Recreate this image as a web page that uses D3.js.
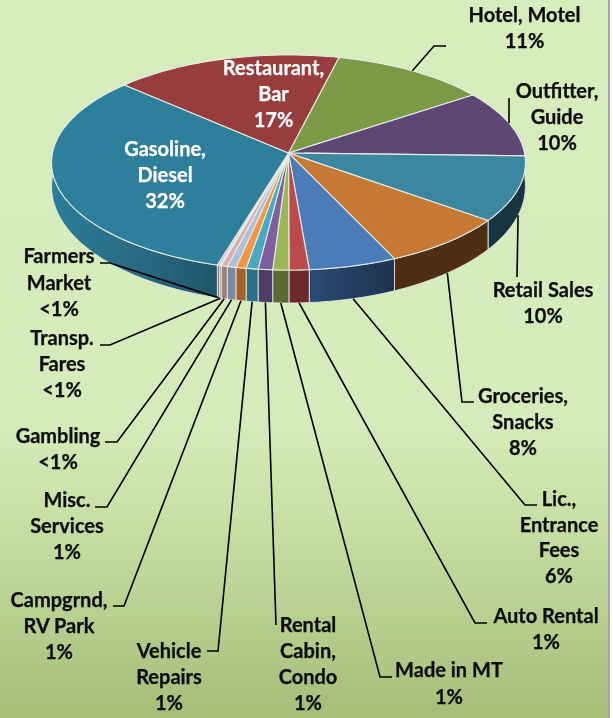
<!DOCTYPE html>
<html><head><meta charset="utf-8">
<script src="https://cdn.jsdelivr.net/npm/d3@7/dist/d3.min.js"></script>
<style>html,body{margin:0;padding:0;background:#fff}svg{display:block}
text{font-family:Lato,"Open Sans",sans-serif;font-weight:700;font-size:20px;text-anchor:middle;stroke-width:.25px}</style>
</head><body><div id="chart"></div>
<script>
// ---- data ----
const categories = [
  "Hotel, Motel","Outfitter, Guide","Retail Sales","Groceries, Snacks","Lic., Entrance Fees",
  "Auto Rental","Made in MT","Rental Cabin, Condo","Vehicle Repairs","Campgrnd, RV Park",
  "Misc. Services","Gambling","Transp. Fares","Farmers Market","Gasoline, Diesel","Restaurant, Bar"];
const values = [11.6,10.1,9.8,8,5.5,1.25,1,0.9,0.75,0.64,0.55,0.39,0.1,0.15,32.37,16.9];
const percentLabels = ["11%","10%","10%","8%","6%","1%","1%","1%","1%","1%","1%","<1%","<1%","<1%","32%","17%"];
const nameLines = [
  ["Hotel, Motel"],["Outfitter,","Guide"],["Retail Sales"],["Groceries,","Snacks"],["Lic.,","Entrance","Fees"],
  ["Auto Rental"],["Made in MT"],["Rental","Cabin,","Condo"],["Vehicle","Repairs"],["Campgrnd,","RV Park"],
  ["Misc.","Services"],["Gambling"],["Transp.","Fares"],["Farmers","Market"],["Gasoline,","Diesel"],["Restaurant,","Bar"]];

// ---- styling ----
const topColors  = ["#7b9a45","#5d4674","#3a87a0","#c67835","#4a7cb8","#bb4c4c","#98b855","#7d5fa0","#48a9c3","#f49544","#aebfdc","#d8aeac","#c6d8a4","#bcaed0","#2e7f9b","#973c3d"];
const sideColors = ["#5a7030","#43305a","#16363f","#4f2e15","url(#gLic)","#6e2a2a","#5a6b33","#4f3a69","#2a7086","#a56226","#7a8ba3","#a08080","#8a9a70","#85789a","url(#gGas)","#6e2a2a"];
const labelColors = categories.map((d,i)=> i>=14 ? "#ffffff" : "#0b0b0b");

// ---- layout ----
const W=613,H=718,panelW=608;
const labelAnchors = [[524.5,22],[557,98],[543,297],[523,403],[559,506],[546,623],[449,677],[308,632],[169,658],[59,607],[67,507],[58,443],[62,345],[59,263],[165,156],[273.5,75]];
const labelLineH = [26,26,26,26,25.7,26,27,26,26,26,26,26,26,26.5,26,26];
// elbows of the leader lines, null for labels inside the pie
const leaderBends = [[[434,46],[446,46]],[[509,98]],[[517,277]],[[462,402],[474,402]],[[525,505],[537,505]],
  [[475,623],[487,623]],[[380,677],[392,677]],[[276,625]],[[218,651],[207,651]],[[124,606],[113,606]],
  [[107,507],[95,507]],[[117,442],[105,442]],[[110,345],[100,345]],[[110,263],[100,263]],null,null];

const cx=288.5, cy=153, a=236, b=106.7, k=-0.0884;
const deg=Math.PI/180;
// tilted-disc projection of pie angle (clockwise from 12 o'clock)
function project(t,lower){
  const u=Math.sin(t), v=-Math.cos(t), d=1+k*v;
  const depth = lower ? 23+10*v : 0;
  return [cx+a*u/d, cy+b*v/d+depth];
}
const arcPoints=(a0,a1,lower)=>{const n=Math.max(2,Math.ceil(Math.abs(a1-a0)/(1*deg)));
  return d3.range(n+1).map(i=>project(a0+(a1-a0)*i/n,lower));};
const line=d3.line();

const pieGen=d3.pie().sort(null).value(d=>d).startAngle(13.4*deg).endAngle((360+13.4)*deg);
const slices=pieGen(values);

const svg=d3.select("#chart").append("svg").attr("width",W).attr("height",H);
const defs=svg.append("defs");
const grad=(id,stops,x2,y2)=>{const g=defs.append("linearGradient").attr("id",id).attr("x1",0).attr("y1",0).attr("x2",x2).attr("y2",y2);
  stops.forEach(s=>g.append("stop").attr("offset",s[0]).attr("stop-color",s[1]));};
grad("gBg",[[0,"#d8edbe"],[0.58,"#d6ebbb"],[0.72,"#c8e0a6"],[1,"#a6bd78"]],0,1);
grad("gGas",[[0,"#2b7d98"],[0.45,"#2a6d85"],[1,"#20566a"]],1,0);
grad("gLic",[[0,"#2b4a73"],[1,"#1e3350"]],1,0);
defs.append("filter").attr("id","soft").attr("x","-5%").attr("y","-5%").attr("width","110%").attr("height","110%")
  .append("feGaussianBlur").attr("stdDeviation",0.4);

svg.append("rect").attr("width",panelW).attr("height",H).attr("fill","url(#gBg)");
svg.append("rect").attr("x",panelW).attr("width",2).attr("height",H).attr("fill","#a3a3a3");

const g=svg.append("g").attr("filter","url(#soft)");

// side wall
const vis0=90.5*deg, vis1=272*deg;
g.append("g").selectAll("path").data(slices).join("path")
  .attr("d",s=>{
    const lo=Math.max(s.startAngle,vis0),hi=Math.min(s.endAngle,vis1);
    if(hi<=lo) return null;
    const top=arcPoints(lo,hi,false), bot=arcPoints(hi,lo,true);
    return line(top.concat(bot))+"Z";
  })
  .attr("fill",(s,i)=>sideColors[i]).attr("stroke","#e8ecdf").attr("stroke-width",1).attr("stroke-opacity",.85);

// top face
g.append("g").selectAll("path").data(slices).join("path")
  .attr("d",s=>line([[cx,cy]].concat(arcPoints(s.startAngle,s.endAngle,false)))+"Z")
  .attr("fill",(s,i)=>topColors[i]).attr("stroke","#e6ebe4").attr("stroke-width",1.1).attr("stroke-linejoin","round");

// leader lines start from the rim at each slice's mid angle
g.append("g").selectAll("path").data(slices.filter((s,i)=>leaderBends[i])).join("path")
  .attr("d",s=>{
    const i=s.index, mid=(s.startAngle+s.endAngle)/2;
    return line([project(mid,i>=2)].concat(leaderBends[i]));
  })
  .attr("fill","none").attr("stroke","#050505").attr("stroke-width",1.6);

// labels
const lab=g.append("g").selectAll("text").data(categories).join("text")
  .attr("fill",(d,i)=>labelColors[i]).attr("stroke",(d,i)=>labelColors[i])
  .attr("transform",(d,i)=>`translate(${labelAnchors[i][0]},${labelAnchors[i][1]})`);
lab.each(function(d,i){
  const t=d3.select(this);
  nameLines[i].concat([percentLabels[i]]).forEach((l,j)=>{
    t.append("tspan").attr("x",0).attr("y",j*labelLineH[i]).text(l);
  });
});
</script></body></html>
